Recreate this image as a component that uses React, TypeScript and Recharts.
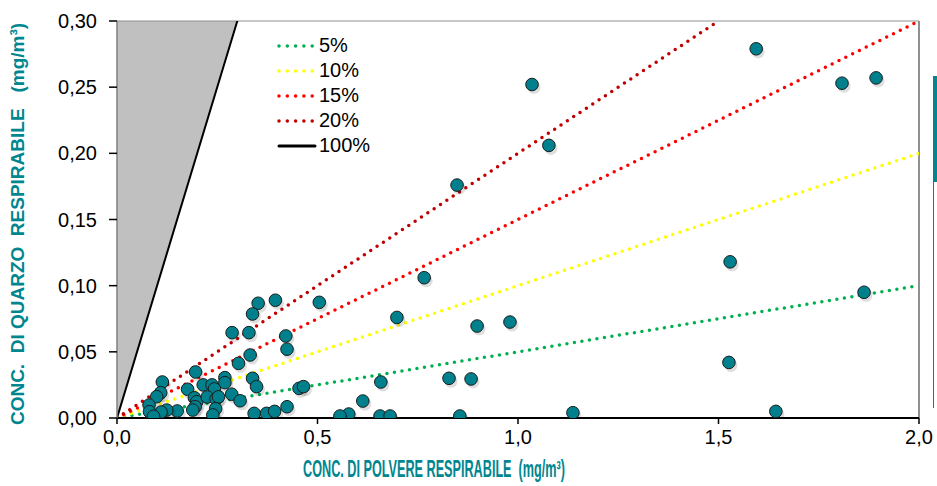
import React from "react";
import { ComposedChart, Scatter, XAxis, YAxis, ReferenceLine, ReferenceArea } from "recharts";

const dustX = [
  1.035, 1.594, 1.808, 1.893, 1.077, 0.848, 1.529, 0.766, 1.863, 0.698, 0.898, 0.98, 1.526, 0.828, 0.883, 0.658,
  0.613, 0.578, 0.556, 0.656, 0.681, 0.855, 1.137, 1.643, 0.352, 0.395, 0.5045, 0.338, 0.287, 0.329, 0.421, 0.424,
  0.332, 0.303, 0.196, 0.338, 0.348, 0.269, 0.269, 0.113, 0.109, 0.099, 0.176, 0.193, 0.199, 0.195, 0.189, 0.215,
  0.237, 0.243, 0.225, 0.247, 0.253, 0.286, 0.307, 0.246, 0.239, 0.15, 0.124, 0.11, 0.08, 0.081, 0.091, 0.342,
  0.373, 0.393, 0.424, 0.454, 0.465,
];
const quartzY = [
  0.252, 0.279, 0.253, 0.257, 0.206, 0.176, 0.118, 0.106, 0.095, 0.076, 0.0695, 0.0725, 0.042, 0.03, 0.0295, 0.0272,
  0.0128, 0.003, 0.0015, 0.0015, 0.0015, 0.0015, 0.004, 0.005, 0.0867, 0.089, 0.0874, 0.0786, 0.0645, 0.0645, 0.062, 0.052,
  0.0476, 0.0413, 0.0348, 0.03, 0.0237, 0.0305, 0.0267, 0.0272, 0.0191, 0.0161, 0.0217, 0.0153, 0.0123, 0.0085, 0.006, 0.025,
  0.025, 0.022, 0.0159, 0.0144, 0.016, 0.018, 0.013, 0.007, 0.0023, 0.0053, 0.006, 0.0045, 0.0098, 0.0048, 0.0013, 0.0035,
  0.0035, 0.005, 0.0085, 0.0224, 0.0237,
];

const xTicks = [0, 0.5, 1, 1.5, 2];
const yTicks = [0, 0.05, 0.1, 0.15, 0.2, 0.25, 0.3];

const ratioLabels = ["5%", "10%", "15%", "20%", "100%"];
const ratios = [0.05, 0.1, 0.15, 0.2, 1];
const ratioColors = ["#00b050", "#ffff00", "#ff0000", "#c00000", "#000000"];

const X_MAX = 2;
const Y_MAX = 0.3;

const points = dustX.map((x, i) => ({ x, y: quartzY[i] }));

const comma = (v: number, d: number) => v.toFixed(d).replace(".", ",");

const Dot = (props: any) => {
  const { cx, cy } = props;
  if (cx == null || cy == null) return null;
  return (
    <g>
      <circle cx={cx + 2} cy={cy + 3} r={6.5} fill="rgba(0,0,0,0.13)" />
      <circle cx={cx} cy={cy} r={6.3} fill="#00808c" stroke="#1b1b1b" strokeWidth={1} />
    </g>
  );
};

const Triangle = (props: any) => {
  const { x, y, width, height } = props;
  return <polygon points={`${x},${y + height} ${x},${y} ${x + width},${y}`} fill="#c0c0c0" />;
};

const titleColor = "#00868f";

export default function App() {
  return (
    <div style={{ position: "absolute", left: 0, top: 0, width: 937, height: 486, background: "#fff", fontFamily: "'Liberation Sans', Arial, sans-serif" }}>
      <ComposedChart width={937} height={486} data={points} margin={{ top: 21, right: 18, bottom: 0, left: 0 }}>
        <XAxis
          type="number"
          dataKey="x"
          domain={[0, X_MAX]}
          ticks={xTicks}
          tickFormatter={(v) => comma(v, 1)}
          height={68}
          tickSize={6}
          tickMargin={6}
          axisLine={{ stroke: "#000", strokeWidth: 2 }}
          tickLine={{ stroke: "#000", strokeWidth: 1.5 }}
          tick={{ fill: "#000", fontSize: 20 }}
          allowDataOverflow
        />
        <YAxis
          type="number"
          dataKey="y"
          domain={[0, Y_MAX]}
          ticks={yTicks}
          tickFormatter={(v) => comma(v, 2)}
          width={117}
          tickSize={8}
          tickMargin={12}
          axisLine={{ stroke: "#808080", strokeWidth: 1.5 }}
          tickLine={{ stroke: "#000", strokeWidth: 1.5 }}
          tick={{ fill: "#000", fontSize: 20 }}
          allowDataOverflow
        />
        <ReferenceArea x1={0} x2={Y_MAX / ratios[4]} y1={0} y2={Y_MAX} shape={<Triangle />} ifOverflow="hidden" />
        <ReferenceLine y={Y_MAX} stroke="#909090" strokeWidth={1} />
        <ReferenceLine x={X_MAX} stroke="#909090" strokeWidth={2} />
        {ratios.map((r, i) => {
          const xEnd = Math.min(X_MAX, Y_MAX / r);
          return (
            <ReferenceLine
              key={ratioLabels[i]}
              segment={[{ x: 0, y: 0 }, { x: xEnd, y: xEnd * r }]}
              stroke={ratioColors[i]}
              strokeWidth={i === 4 ? 2 : 3.5}
              strokeDasharray={i === 4 ? undefined : "0 7.6"}
              strokeLinecap="round"
              ifOverflow="hidden"
            />
          );
        })}
        <Scatter data={points} shape={<Dot />} isAnimationActive={false} />
      </ComposedChart>

      <div style={{ position: "absolute", left: 276, top: 33 }}>
        {ratioLabels.map((l, i) => (
          <div key={l} style={{ display: "flex", alignItems: "center", height: 25, fontSize: 20, color: "#000" }}>
            <svg width={42} height={10} style={{ marginRight: 1 }}>
              <line
                x1={3}
                y1={5}
                x2={39}
                y2={5}
                stroke={ratioColors[i]}
                strokeWidth={i === 4 ? 3 : 3.5}
                strokeDasharray={i === 4 ? undefined : "0 8.3"}
                strokeLinecap="round"
              />
            </svg>
            <span>{l}</span>
          </div>
        ))}
      </div>

      <div
        style={{
          position: "absolute",
          left: 434,
          top: 469,
          transform: "translate(-50%, -50%) scaleX(0.55)",
          whiteSpace: "pre",
          color: titleColor,
          fontWeight: "bold",
          fontSize: 23,
        }}
      >
        {"CONC. DI POLVERE RESPIRABILE  (mg/m³)"}
      </div>
      <div
        style={{
          position: "absolute",
          left: 18,
          top: 224,
          transform: "translate(-50%, -50%) rotate(-90deg)",
          whiteSpace: "pre",
          color: titleColor,
          fontWeight: "bold",
          fontSize: 19,
        }}
      >
        {"CONC.  DI QUARZO  RESPIRABILE   (mg/m³)"}
      </div>

      <div style={{ position: "absolute", left: 933, top: 76, width: 4, height: 106, background: "#00868f" }} />
      <div style={{ position: "absolute", left: 933, top: 182, width: 1, height: 226, background: "#00868f" }} />
    </div>
  );
}
